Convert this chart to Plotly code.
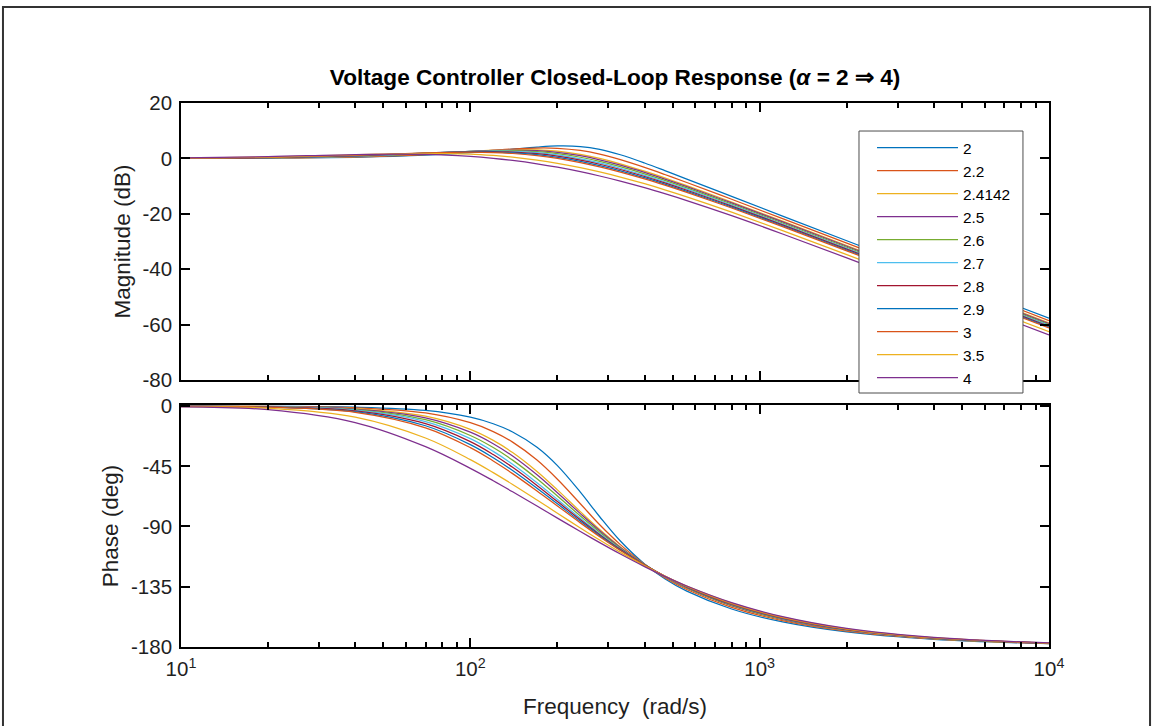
import plotly.graph_objects as go

# Frequency grid (rad/s) at which both Bode panels are sampled
freq = [10, 20, 40, 70, 100, 120, 140, 170, 200, 240, 280, 330, 400, 470,
        560, 800, 1200, 2000, 4000, 10000]

alpha_labels = ["2", "2.2", "2.4142", "2.5", "2.6", "2.7", "2.8", "2.9", "3", "3.5", "4"]

# Magnitude (dB) for each alpha
mag_a2_0 = [0.03, 0.11, 0.41, 1.14, 2.07, 2.71, 3.32, 4.07, 4.48, 4.28, 3.26, 1.31, -1.66, -4.40, -7.46, -13.73, -20.83, -29.73, -41.79, -57.71]
mag_a2_2 = [0.04, 0.14, 0.53, 1.40, 2.36, 2.93, 3.39, 3.75, 3.66, 2.86, 1.54, -0.46, -3.25, -5.81, -8.70, -14.76, -21.75, -30.59, -42.63, -58.54]
mag_a2_4142 = [0.05, 0.18, 0.67, 1.64, 2.54, 2.95, 3.17, 3.10, 2.60, 1.45, -0.01, -1.96, -4.62, -7.06, -9.83, -15.73, -22.63, -31.43, -43.44, -59.35]
mag_a2_5 = [0.06, 0.20, 0.73, 1.71, 2.54, 2.86, 2.99, 2.79, 2.19, 0.97, -0.50, -2.44, -5.07, -7.47, -10.22, -16.07, -22.94, -31.73, -43.73, -59.65]
mag_a2_6 = [0.07, 0.23, 0.79, 1.80, 2.53, 2.76, 2.77, 2.42, 1.72, 0.42, -1.08, -3.00, -5.59, -7.95, -10.67, -16.47, -23.31, -32.08, -44.08, -59.99]
mag_a2_7 = [0.08, 0.25, 0.86, 1.88, 2.53, 2.66, 2.56, 2.06, 1.24, -0.14, -1.65, -3.56, -6.11, -8.44, -11.12, -16.87, -23.67, -32.43, -44.42, -60.32]
mag_a2_8 = [0.09, 0.28, 0.92, 1.91, 2.44, 2.48, 2.30, 1.70, 0.82, -0.59, -2.11, -4.01, -6.53, -8.84, -11.50, -17.21, -23.99, -32.74, -44.72, -60.63]
mag_a2_9 = [0.10, 0.30, 0.99, 1.95, 2.36, 2.30, 2.03, 1.33, 0.39, -1.05, -2.58, -4.47, -6.97, -9.26, -11.89, -17.57, -24.32, -33.06, -45.04, -60.94]
mag_a3_0 = [0.11, 0.33, 1.05, 1.98, 2.27, 2.12, 1.77, 0.97, -0.03, -1.51, -3.04, -4.92, -7.39, -9.66, -12.27, -17.91, -24.65, -33.36, -45.34, -61.23]
mag_a3_5 = [0.15, 0.49, 1.30, 1.84, 1.55, 1.06, 0.45, -0.62, -1.77, -3.34, -4.88, -6.73, -9.14, -11.34, -13.87, -19.40, -26.06, -34.73, -46.68, -62.57]
mag_a4_0 = [0.20, 0.64, 1.40, 1.46, 0.72, 0.04, -0.73, -1.95, -3.18, -4.80, -6.35, -8.19, -10.57, -12.73, -15.22, -20.67, -27.28, -35.91, -47.85, -63.74]

# Phase (deg) for each alpha
ph_a2_0 = [-0.01, -0.08, -0.63, -3.11, -8.17, -13.08, -19.23, -30.72, -44.45, -64.28, -82.72, -100.92, -118.09, -129.11, -138.45, -151.83, -161.51, -168.99, -174.52, -177.81]
ph_a2_2 = [-0.02, -0.12, -1.05, -4.93, -12.28, -18.95, -26.84, -40.30, -54.66, -72.96, -88.75, -103.59, -118.31, -128.33, -137.21, -150.55, -160.54, -168.38, -174.20, -177.70]
ph_a2_4142 = [-0.03, -0.23, -1.67, -7.43, -17.30, -25.54, -34.62, -48.82, -62.61, -78.90, -92.27, -105.30, -118.46, -127.78, -136.31, -149.56, -159.76, -167.88, -173.94, -177.60]
ph_a2_5 = [-0.04, -0.28, -2.02, -8.63, -19.37, -28.00, -37.25, -51.35, -64.75, -80.40, -93.21, -105.75, -118.53, -127.66, -136.08, -149.29, -159.54, -167.74, -173.86, -177.58]
ph_a2_6 = [-0.05, -0.35, -2.44, -10.04, -21.84, -30.87, -40.32, -54.29, -67.24, -82.15, -94.31, -106.28, -118.60, -127.52, -135.82, -148.98, -159.29, -167.57, -173.78, -177.55]
ph_a2_7 = [-0.06, -0.41, -2.85, -11.44, -24.21, -33.74, -43.39, -57.24, -69.74, -83.90, -95.41, -106.80, -118.68, -127.38, -135.56, -148.67, -159.04, -167.40, -173.69, -177.52]
ph_a2_8 = [-0.07, -0.50, -3.39, -12.98, -26.42, -36.11, -45.70, -59.28, -71.37, -85.03, -96.14, -107.18, -118.78, -127.32, -135.41, -148.46, -158.86, -167.28, -173.63, -177.50]
ph_a2_9 = [-0.08, -0.60, -3.96, -14.58, -28.71, -38.54, -48.08, -61.37, -73.06, -86.19, -96.90, -107.58, -118.87, -127.26, -135.25, -148.25, -158.68, -167.16, -173.57, -177.47]
ph_a3_0 = [-0.09, -0.69, -4.50, -16.12, -30.92, -40.91, -50.42, -63.41, -74.69, -87.32, -97.63, -107.96, -118.97, -127.20, -135.10, -148.04, -158.50, -167.04, -173.51, -177.45]
ph_a3_5 = [-0.20, -1.43, -8.07, -23.75, -39.90, -49.70, -58.56, -70.20, -80.10, -91.14, -100.21, -109.44, -119.50, -127.20, -134.74, -147.43, -157.93, -166.64, -173.30, -177.35]
ph_a4_0 = [-0.39, -2.56, -12.19, -30.25, -46.48, -55.80, -64.05, -74.73, -83.76, -93.81, -102.12, -110.65, -120.07, -127.39, -134.64, -147.08, -157.57, -166.39, -173.16, -177.26]

magnitudes = [mag_a2_0, mag_a2_2, mag_a2_4142, mag_a2_5, mag_a2_6, mag_a2_7,
              mag_a2_8, mag_a2_9, mag_a3_0, mag_a3_5, mag_a4_0]
phases = [ph_a2_0, ph_a2_2, ph_a2_4142, ph_a2_5, ph_a2_6, ph_a2_7,
          ph_a2_8, ph_a2_9, ph_a3_0, ph_a3_5, ph_a4_0]

# Axis tick positions and labels
freq_ticks = [10, 100, 1000, 10000]
freq_tick_text = ["10<sup>1</sup>", "10<sup>2</sup>", "10<sup>3</sup>", "10<sup>4</sup>"]
mag_ticks = [-80, -60, -40, -20, 0, 20]
phase_ticks = [-180, -135, -90, -45, 0]

# MATLAB default colour order, cycling after seven entries
matlab_colors = ["#0072BD", "#D95319", "#EDB120", "#7E2F8E", "#77AC30", "#4DBEEE", "#A2142F"]

FONT = "Liberation Sans, Arial, Helvetica, sans-serif"
INK = "#000000"
TEXT = "#1f1f1f"

fig = go.Figure()

for i, label in enumerate(alpha_labels):
    color = matlab_colors[i % len(matlab_colors)]
    fig.add_trace(go.Scatter(
        x=freq, y=magnitudes[i], name=label, mode="lines",
        line=dict(color=color, width=1.25, shape="spline"),
        xaxis="x", yaxis="y", showlegend=True,
    ))

for i, label in enumerate(alpha_labels):
    color = matlab_colors[i % len(matlab_colors)]
    fig.add_trace(go.Scatter(
        x=freq, y=phases[i], name=label, mode="lines",
        line=dict(color=color, width=1.25, shape="spline"),
        xaxis="x2", yaxis="y2", showlegend=False,
    ))

minor_ticks = dict(ticks="inside", ticklen=5, tickwidth=1.5, tickcolor=INK,
                   dtick="D1", showgrid=False)

x_common = dict(
    type="log", range=[1, 4], showgrid=False, zeroline=False,
    showline=True, linecolor=INK, linewidth=1.7, mirror="ticks",
    ticks="inside", ticklen=9, tickwidth=1.7, tickcolor=INK,
    tickmode="array", tickvals=freq_ticks, ticktext=freq_tick_text,
    minor=minor_ticks, ticklabelstandoff=3,
    tickfont=dict(family=FONT, size=20.5, color=TEXT),
)

y_common = dict(
    showgrid=False, zeroline=False, showline=True, linecolor=INK,
    linewidth=1.7, mirror="ticks", ticks="inside", ticklen=9,
    tickwidth=1.7, tickcolor=INK, tickmode="array", ticklabelstandoff=3,
    tickfont=dict(family=FONT, size=20.5, color=TEXT),
)

# Legend frame drawn as a paper-space box so the entries can sit inset
legend_box = dict(
    type="rect", xref="paper", yref="paper",
    x0=0.7811, x1=0.9700, y0=0.4669, y1=0.9485,
    line=dict(color="#4d4d4d", width=1), fillcolor="white", layer="above",
)

# Outer figure frame
figure_frame = dict(
    type="rect", xref="paper", yref="paper",
    x0=-0.2051, x1=1.1164, y0=-0.25, y1=1.1765,
    line=dict(color="#333333", width=2), fillcolor="rgba(0,0,0,0)",
    layer="above",
)

fig.update_layout(
    width=1154, height=726,
    margin=dict(l=181, r=105, t=103, b=79),
    paper_bgcolor="white", plot_bgcolor="white",
    font=dict(family=FONT, color=TEXT),
    title=dict(
        text="<b>Voltage Controller Closed-Loop Response (<i>α</i> = 2 ⇒ 4)</b>",
        x=0.533, xanchor="center", y=1 - 77 / 726, yanchor="middle",
        font=dict(family=FONT, size=22.6, color=INK),
    ),
    xaxis=dict(x_common, anchor="y", domain=[0, 1], showticklabels=False),
    xaxis2=dict(x_common, anchor="y2", domain=[0, 1], matches="x",
                title=dict(text="Frequency  (rad/s)", standoff=19,
                           font=dict(family=FONT, size=22.5, color=TEXT))),
    yaxis=dict(y_common, anchor="x", domain=[0.4908, 1], range=[-80, 20],
               tickvals=mag_ticks, ticktext=[str(v) for v in mag_ticks],
               title=dict(text="Magnitude (dB)", standoff=6,
                          font=dict(family=FONT, size=22.5, color=TEXT))),
    yaxis2=dict(y_common, anchor="x2", domain=[0, 0.4449], range=[-180.3, 1.0],
                tickvals=phase_ticks, ticktext=[str(v) for v in phase_ticks],
                title=dict(text="Phase (deg)", standoff=6,
                           font=dict(family=FONT, size=22.5, color=TEXT))),
    legend=dict(
        x=0.7961, y=0.9485, xanchor="left", yanchor="top",
        bgcolor="rgba(0,0,0,0)", borderwidth=0,
        font=dict(family=FONT, size=15.4, color=INK),
        itemwidth=81, tracegroupgap=0,
    ),
    shapes=[legend_box, figure_frame],
)

fig.write_html("out.html")
